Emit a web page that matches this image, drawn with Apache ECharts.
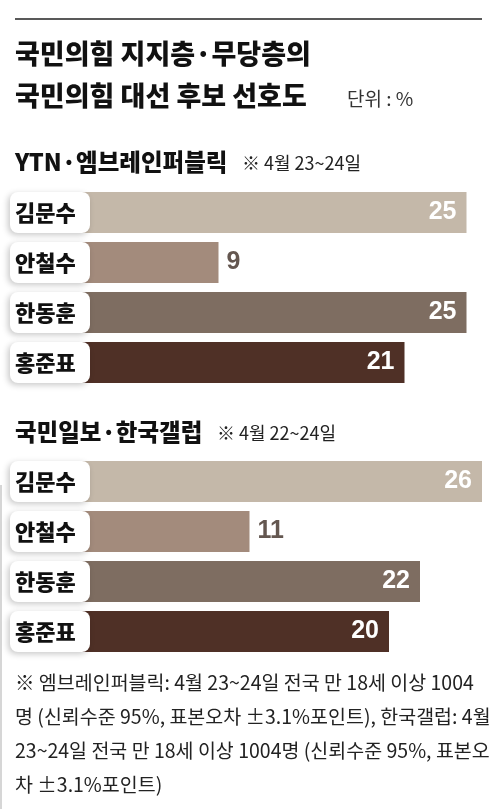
<!DOCTYPE html>
<html>
<head>
<meta charset="utf-8">
<script src="https://cdn.jsdelivr.net/npm/echarts@6/dist/echarts.min.js"></script>
<style>
html,body{margin:0;padding:0;background:#fff;}
#chart{width:500px;height:809px;}
</style>
</head>
<body>
<div id="chart"></div>
<script>
const titleLines = ['국민의힘 지지층·무당층의', '국민의힘 대선 후보 선호도'];
const unitText = '단위 : %';
const categories = ['김문수', '안철수', '한동훈', '홍준표'];
const section1Name = 'YTN·엠브레인퍼블릭';
const section1Date = '※ 4월 23~24일';
const section1Values = [25, 9, 25, 21];
const section2Name = '국민일보·한국갤럽';
const section2Date = '※ 4월 22~24일';
const section2Values = [26, 11, 22, 20];
const barColors = ['#c4b8a9', '#a38b7c', '#7e6d61', '#4f3026'];
const footnoteLines = [
  '※ 엠브레인퍼블릭: 4월 23~24일 전국 만 18세 이상 1004',
  '명 (신뢰수준 95%, 표본오차 ±3.1%포인트), 한국갤럽: 4월',
  '23~24일 전국 만 18세 이상 1004명 (신뢰수준 95%, 표본오',
  '차 ±3.1%포인트)'
];

const KR = '"Noto Sans CJK KR", "Noto Sans", sans-serif';
const NUM = '"Liberation Sans", Arial, sans-serif';

function buildData(values) {
  return values.map((v, i) => {
    const outside = v < 15;
    return {
      value: v,
      itemStyle: { color: barColors[i] },
      label: outside
        ? { position: 'right', distance: 8, color: '#645750' }
        : { position: 'insideRight', distance: 10, color: '#ffffff' }
    };
  });
}

const yAxisCommon = {
  type: 'category',
  data: categories,
  inverse: true,
  z: 5,
  axisLine: { show: false },
  axisTick: { show: false },
  splitLine: { show: false },
  axisLabel: {
    align: 'left',
    margin: 69,
    fontFamily: KR,
    fontWeight: 900,
    fontSize: 22,
    color: '#111',
    width: 75,
    height: 41,
    lineHeight: 41,
    padding: [0, 0, 0, 5],
    backgroundColor: '#ffffff',
    borderRadius: 8,
    shadowColor: 'rgba(0,0,0,0.22)',
    shadowBlur: 6,
    shadowOffsetX: -2,
    shadowOffsetY: 2
  }
};

const xAxisCommon = { type: 'value', min: 0, max: 26, show: false };

const labelCommon = {
  show: true,
  fontFamily: NUM,
  fontWeight: 'bold',
  fontSize: 25
};

function txt(text, left, top, size, weight, color, lh) {
  return { text: text, left: left, top: top, padding: 0,
    textStyle: { fontFamily: KR, fontWeight: weight, fontSize: size, color: color, lineHeight: lh } };
}

const chart = echarts.init(document.getElementById('chart'), null, { renderer: 'canvas' });
chart.setOption({
  backgroundColor: '#ffffff',
  animation: false,
  title: [
    txt(titleLines[0], 15, 37, 27, 900, '#111', 34),
    txt(titleLines[1], 15, 79, 27, 900, '#111', 34),
    txt(unitText, 347, 89, 19, 'normal', '#333', 20),
    txt(section1Name, 15, 148, 23.5, 900, '#111', 28),
    txt(section1Date, 242, 153, 18, 'normal', '#222', 20),
    txt(section2Name, 15, 418, 23.5, 900, '#111', 28),
    txt(section2Date, 217, 423, 18, 'normal', '#222', 20),
    txt(footnoteLines.join('\n'), 15, 666, 19.5, 'normal', '#222', 34)
  ],
  graphic: [
    { type: 'line', shape: { x1: 15, y1: 19, x2: 482, y2: 19 }, style: { stroke: '#222', lineWidth: 1.5 } },
    { type: 'line', shape: { x1: 1, y1: 485, x2: 1, y2: 809 }, style: { stroke: '#c8c8c8', lineWidth: 1.5 } }
  ],
  grid: [
    { left: 79, right: 18, top: 187.5, height: 200 },
    { left: 79, right: 18, top: 456.5, height: 200 }
  ],
  xAxis: [
    Object.assign({ gridIndex: 0 }, xAxisCommon),
    Object.assign({ gridIndex: 1 }, xAxisCommon)
  ],
  yAxis: [
    Object.assign({ gridIndex: 0 }, yAxisCommon),
    Object.assign({ gridIndex: 1 }, yAxisCommon)
  ],
  series: [
    { type: 'bar', xAxisIndex: 0, yAxisIndex: 0, barWidth: 41, data: buildData(section1Values), label: labelCommon },
    { type: 'bar', xAxisIndex: 1, yAxisIndex: 1, barWidth: 41, data: buildData(section2Values), label: labelCommon }
  ]
});
</script>
</body>
</html>
